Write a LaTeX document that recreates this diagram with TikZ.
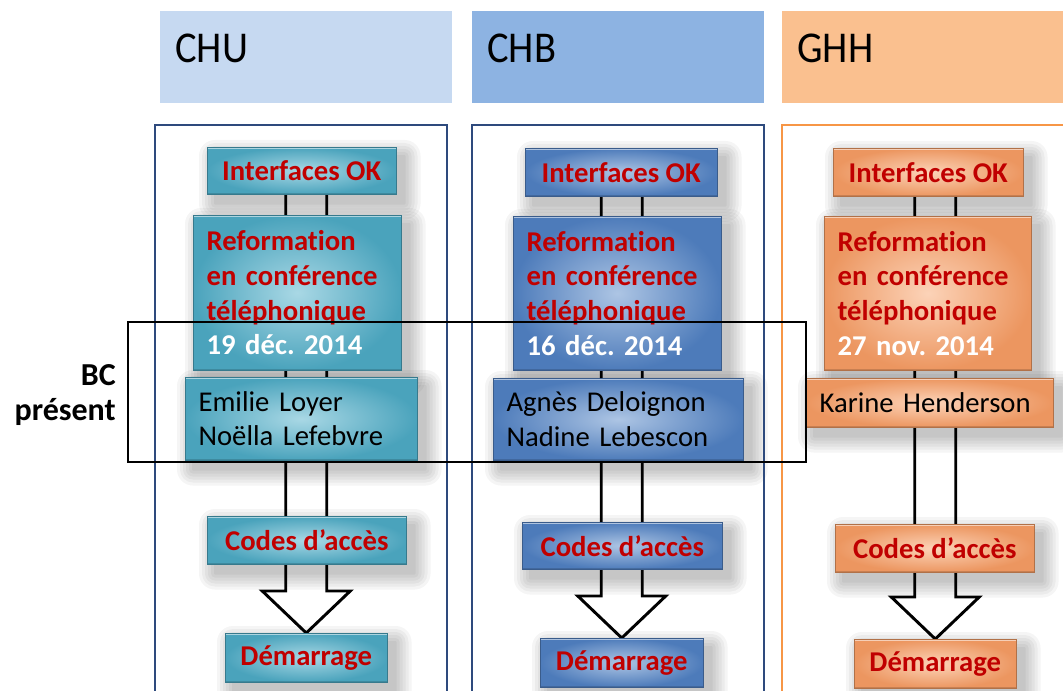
\documentclass[tikz,border=0pt]{standalone}
\usepackage{fontspec}
\setmainfont{Carlito}[Ligatures=NoCommon]
\usetikzlibrary{calc}
\frenchspacing
\definecolor{txtred}{HTML}{C00000}
\definecolor{chuD}{HTML}{4AA3BC}
\definecolor{chuL}{HTML}{A9D8E5}
\definecolor{chbD}{HTML}{4D7BBA}
\definecolor{chbL}{HTML}{ADC5E4}
\definecolor{ghhD}{HTML}{EC9660}
\definecolor{ghhL}{HTML}{FCD3B8}
\definecolor{hdrA}{HTML}{C6D9F1}
\definecolor{hdrB}{HTML}{8DB3E2}
\definecolor{hdrC}{HTML}{FAC08F}
\definecolor{frameblue}{HTML}{2E4A7D}
\definecolor{frameorange}{HTML}{F79646}
\newcommand\boxfnt{\fontsize{21.5}{26}\selectfont\bfseries}
\newcommand\namfnt{\fontsize{21.5}{26}\selectfont}
\newcommand\hdrfnt{\fontsize{33}{38}\selectfont}
\newcommand\myshaft[2]{%
  \draw[shaft] ($(#1.center -| #2.north)+(-20.5,0)$) -- ($(#2.north)+(-20.5,-42)$)
    -- ($(#2.north)+(-44,-42)$) -- (#2.north) -- ($(#2.north)+(44,-42)$)
    -- ($(#2.north)+(20.5,-42)$) -- ($(#1.center -| #2.north)+(20.5,0)$);}
\newcommand\mysoftshadow[1]{%
  \foreach \e in {1,4,7,10,13,16}{%
    \fill[black, fill opacity=.04, rounded corners=\e*0.75pt]
      ($(#1.north west)+(8-\e,9-\e)$) rectangle ($(#1.south east)+(8+\e,9+\e)$);}}
\pgfdeclarelayer{back}
\pgfdeclarelayer{bg}
\pgfdeclarelayer{shad}
\pgfsetlayers{back,bg,shad,main}
\begin{document}
\begin{tikzpicture}[x=0.75pt,y=-0.75pt,
  box/.style={rectangle, draw=#1D!75!black, line width=0.4pt, inner sep=0pt,
    inner color=#1L, outer color=#1D,
    path picture={\draw[white, opacity=.55, line width=2.5pt] (path picture bounding box.north west) -- (path picture bounding box.north east);
      \draw[black, opacity=.15, line width=2.5pt] (path picture bounding box.south west) -- (path picture bounding box.south east);},
    anchor=north west},
  hb/.style={text=txtred, font=\boxfnt, align=center},
  reftxt/.style={text=txtred, font=\boxfnt, align=left, inner xsep=10pt, inner ysep=0pt},
  namtxt/.style={text=black, font=\namfnt, align=left, inner xsep=10pt, inner ysep=0pt},
  hdr/.style={rectangle, draw=none, anchor=north west, inner xsep=11.25pt, inner ysep=0pt,
    align=left, font=\hdrfnt, text height=22pt, text depth=14pt, minimum height=69pt},
  shaft/.style={draw=black, fill=white, line width=2.2pt, line join=miter},
  framebox/.style={line width=1.1pt}]
\clip (0,0) rectangle (1063,691);
\begin{pgfonlayer}{back}
\fill[white] (0,0) rectangle (1063,691);
\end{pgfonlayer}

% headers
\node[hdr, fill=hdrA, minimum width=219pt, text width=196.5pt] (hCHU) at (160,11) {\scalebox{0.92}[1]{CHU}};
\node[hdr, fill=hdrB, minimum width=219pt, text width=196.5pt] (hCHB) at (472,11) {\scalebox{0.92}[1]{CHB}};
\node[hdr, fill=hdrC, minimum width=225pt, text width=202.5pt] (hGHH) at (782,11) {\scalebox{0.92}[1]{GHH}};

% column frames
\draw[framebox, draw=frameblue] (155,125) rectangle (447,720);
\draw[framebox, draw=frameblue] (472,125) rectangle (764,720);
\draw[line width=1.9pt, draw=frameorange] (782,125) rectangle (1090,720);

% CHU column
\node[box=chu, hb, minimum width=141.75pt, minimum height=35.25pt] (int1) at (207,147) {Interfaces OK};
\node[box=chu, reftxt, text width=136pt, minimum height=116.25pt] (ref1) at (193,215)
  {Reformation\\en conférence\\téléphonique\\\textcolor{white}{19 déc. 2014}};
\node[box=chu, namtxt, text width=154pt, minimum height=62.25pt] (nam1) at (185,377)
  {Emilie Loyer\\Noëlla Lefebvre};
\node[box=chu, hb, minimum width=149.25pt, minimum height=36pt] (cod1) at (207,516) {Codes d’accès};
\node[box=chu, hb, minimum width=121.5pt, minimum height=36.75pt] (dem1) at (225,633) {Démarrage};

% CHB column
\node[box=chb, hb, minimum width=144pt, minimum height=36pt] (int2) at (525,148) {Interfaces OK};
\node[box=chb, reftxt, text width=136pt, minimum height=115.5pt] (ref2) at (513,216)
  {Reformation\\en conférence\\téléphonique\\\textcolor{white}{16 déc. 2014}};
\node[box=chb, namtxt, text width=167.5pt, minimum height=61.5pt] (nam2) at (493,378)
  {Agnès Deloignon\\Nadine Lebescon};
\node[box=chb, hb, minimum width=150pt, minimum height=35.25pt] (cod2) at (522,522) {Codes d’accès};
\node[box=chb, hb, minimum width=122.25pt, minimum height=36.75pt] (dem2) at (540,638) {Démarrage};

% GHH column
\node[box=ghh, hb, minimum width=142.5pt, minimum height=36pt] (int3) at (833,148) {Interfaces OK};
\node[box=ghh, reftxt, text width=135.25pt, minimum height=115.5pt] (ref3) at (824,216)
  {Reformation\\en conférence\\téléphonique\\\textcolor{white}{27 nov. 2014}};
\node[box=ghh, namtxt, text width=165.25pt, minimum height=36.75pt] (nam3) at (806,378)
  {Karine Henderson};
\node[box=ghh, hb, minimum width=149.25pt, minimum height=36pt] (cod3) at (835,524) {Codes d’accès};
\node[box=ghh, hb, minimum width=121.5pt, minimum height=36.75pt] (dem3) at (854,639) {Démarrage};

% block arrows behind the boxes
\begin{pgfonlayer}{bg}
\myshaft{int1}{dem1}
\myshaft{int2}{dem2}
\myshaft{int3}{dem3}
\end{pgfonlayer}

% soft shadows
\begin{pgfonlayer}{shad}
\foreach \n in {int1,ref1,nam1,cod1,dem1,int2,ref2,nam2,cod2,dem2,int3,ref3,nam3,cod3,dem3}{\mysoftshadow{\n}}
\end{pgfonlayer}

% BC present
\node[font=\fontsize{24}{26}\selectfont\bfseries, align=right, inner sep=0pt, anchor=east] (bc) at (116,395) {BC\\présent};
\draw[line width=0.9pt] (128,322) rectangle (806,462);
\end{tikzpicture}
\end{document}
